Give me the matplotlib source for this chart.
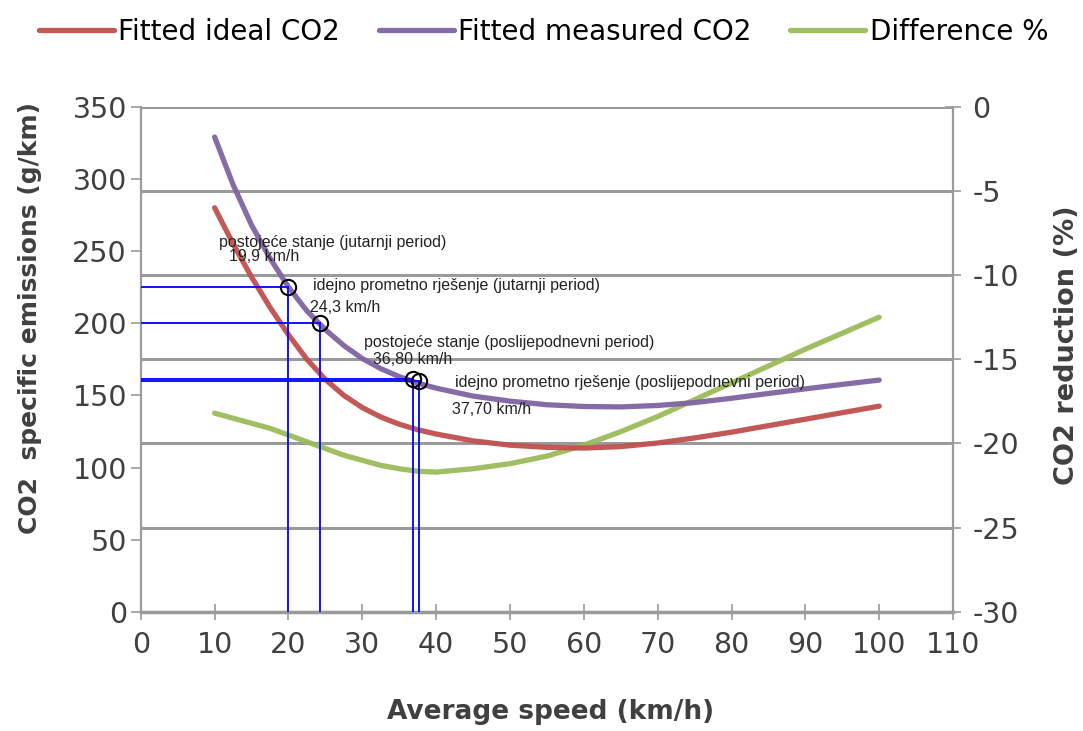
import numpy as np
import matplotlib
matplotlib.use('Agg')
import matplotlib.pyplot as plt

# brzina (km/h)
speed = [10, 12.5, 15, 17.5, 20, 22.5, 25, 27.5, 30, 32.5, 35, 37.5, 40,
         45, 50, 55, 60, 65, 70, 75, 80, 85, 90, 95, 100]
# fitted measured CO2 (g/km)
measured_co2 = [329, 296, 268, 245, 225, 208.5, 195.5, 184.5, 175.5, 168.5, 163, 158.5, 155,
                149.5, 146, 143.5, 142.3, 142, 143, 145, 148, 151.3, 154.5, 157.6, 160.6]
# fitted ideal CO2 (g/km)
ideal_co2 = [280, 255, 232, 211, 192, 175, 161, 150, 141.5, 135, 130, 126.2, 123.2,
             118.5, 115.5, 114, 113.5, 114.5, 117, 120.5, 124.5, 129, 133.5, 138, 142.5]
# razlika (%)
diff_pct = [-18.2, -18.5, -18.8, -19.1, -19.5, -19.9, -20.3, -20.7, -21.0, -21.3, -21.5,
            -21.65, -21.7, -21.5, -21.2, -20.75, -20.1, -19.3, -18.4, -17.4, -16.4,
            -15.4, -14.4, -13.45, -12.5]

# oznacene tocke
pt_speed = [19.9, 24.3, 36.8, 37.7]
pt_co2 = [225, 200, 161, 160]
pt_title = ['postojeće stanje (jutarnji period)',
            'idejno prometno rješenje (jutarnji period)',
            'postojeće stanje (poslijepodnevni period)',
            'idejno prometno rješenje (poslijepodnevni period)']
pt_value = ['19,9 km/h', '24,3 km/h', '36,80 km/h', '37,70 km/h']

left_ticks = list(range(0, 351, 50))
right_ticks = list(range(-30, 1, 5))
x_ticks = list(range(0, 111, 10))

RED = '#C0504D'
PURPLE = '#8064A2'
GREEN = '#9BBB59'
GRID = '#9a9a9a'
TXT = '#404040'

plt.rcParams['font.family'] = ['DejaVu Sans']
plt.rcParams['axes.unicode_minus'] = False

fig = plt.figure(figsize=(10.83, 7.31), dpi=100)
ax = fig.add_axes([0.130, 0.163, 0.750, 0.691])
ax2 = ax.twinx()
ax.set_zorder(ax2.get_zorder() + 1)
ax.patch.set_visible(False)

# desna os - razlika i mreza
l3, = ax2.plot(speed, diff_pct, color=GREEN, lw=3.8, alpha=0.95, solid_capstyle='round',
               solid_joinstyle='round', label='Difference %')
ax2.set_ylim(-30, 0)
ax2.set_yticks(right_ticks)
ax2.grid(True, axis='y', color=GRID, lw=2.2)
ax2.set_axisbelow(True)

# lijeva os
l1, = ax.plot(speed, ideal_co2, color=RED, lw=3.8, alpha=0.95, solid_capstyle='round',
              solid_joinstyle='round', label='Fitted ideal CO2')
l2, = ax.plot(speed, measured_co2, color=PURPLE, lw=3.8, alpha=0.95, solid_capstyle='round',
              solid_joinstyle='round', label='Fitted measured CO2')

for sx, sy in zip(pt_speed, pt_co2):
    ax.plot([0, sx], [sy, sy], color='#1010ff', lw=1.4, zorder=4)
    ax.plot([sx, sx], [0, sy], color='#1010ff', lw=1.4, zorder=4)
ax.plot(pt_speed, pt_co2, 'o', mfc='none', mec='black', ms=11, mew=1.5, zorder=5)

# tekst uz tocke (pomak u pikselima od tocke)
offsets = [(-69, 45, -59, 31), (-7, 38, -10, 16), (-49, 37, -40, 20), (36, -2, 33, -29)]
for i, (sx, sy) in enumerate(zip(pt_speed, pt_co2)):
    dx1, dy1, dx2, dy2 = offsets[i]
    ax.annotate(pt_title[i], (sx, sy), xytext=(dx1, dy1), textcoords='offset pixels',
                fontsize=11.5, color='#222222', ha='left', va='center',
                family=['Liberation Sans Narrow', 'Liberation Sans'], zorder=6)
    ax.annotate(pt_value[i], (sx, sy), xytext=(dx2, dy2), textcoords='offset pixels',
                fontsize=11.5, color='#222222', ha='left', va='center',
                family=['Liberation Sans Narrow', 'Liberation Sans'], zorder=6)

ax.set_xlim(0, 110)
ax.set_ylim(0, 350)
ax.set_xticks(x_ticks)
ax.set_yticks(left_ticks)

for a in (ax, ax2):
    for s in a.spines.values():
        s.set_color(GRID)
        s.set_linewidth(1.5)
ax.spines['bottom'].set_linewidth(2.5)
ax.spines['top'].set_visible(False)
ax2.spines['top'].set_visible(False)

ax.tick_params(axis='y', direction='out', length=7, width=1.2, color=GRID,
               labelsize=20.5, labelcolor=TXT, pad=3)
ax.tick_params(axis='x', direction='inout', length=12, width=1.2, color=GRID,
               labelsize=20.5, labelcolor=TXT, pad=8)
ax2.tick_params(axis='y', direction='inout', length=12, width=1.2, color=GRID,
                labelsize=20.5, labelcolor=TXT, pad=8)

fig.text(0.508, 0.026, 'Average speed (km/h)', fontsize=19, fontweight='bold', color=TXT,
         ha='center', va='center')
fig.text(0.028, 0.565, 'CO2  specific emissions (g/km)', fontsize=18, fontweight='bold',
         color=TXT, ha='center', va='center', rotation=90)
fig.text(0.985, 0.528, 'CO2 reduction (%)', fontsize=19.5, fontweight='bold', color=TXT,
         ha='center', va='center', rotation=90)

fig.legend(handles=[l1, l2, l3], loc='upper center', bbox_to_anchor=(0.502, 1.01), ncol=3,
           frameon=False, fontsize=20, handlelength=2.7, handletextpad=0.15,
           columnspacing=1.4)

fig.savefig('out.png', dpi=100)
